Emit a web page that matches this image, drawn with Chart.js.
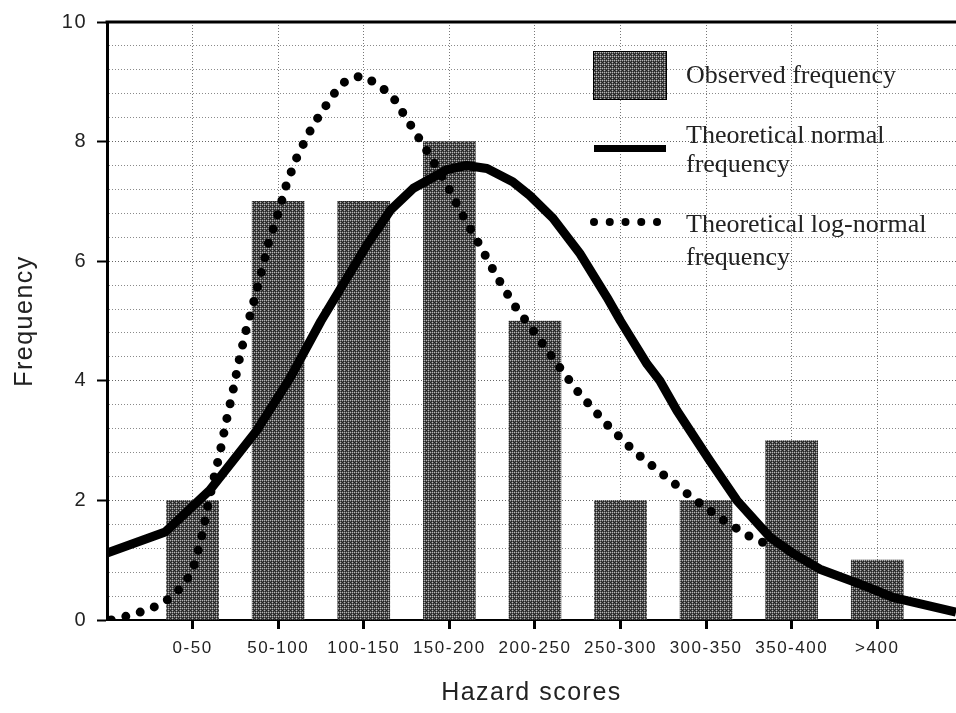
<!DOCTYPE html>
<html>
<head>
<meta charset="utf-8">
<script src="https://cdn.jsdelivr.net/npm/chart.js@4.4.0/dist/chart.umd.min.js"></script>
<style>
html, body { margin: 0; padding: 0; background: #fff; }
#wrap { width: 956px; height: 713px; position: relative; }
</style>
</head>
<body>
<div id="wrap"><canvas id="chart"></canvas></div>
<script>
// Categories and observed counts
const categories = ['0-50', '50-100', '100-150', '150-200', '200-250', '250-300', '300-350', '350-400', '>400'];
const observed = [2, 7, 7, 8, 5, 2, 2, 3, 1];

// Theoretical normal curve (x in category units)
const normalX = [0, 0.68, 1.2, 1.75, 2.14, 2.5, 3.04, 3.31, 3.58, 3.97, 4.2, 4.44, 4.74, 4.94, 5.21, 5.53, 5.84, 6.0, 6.31, 6.46, 6.66, 7.04, 7.36, 7.75, 8.01, 8.33, 8.8, 9.18, 9.92];
const normalY = [1.12, 1.47, 2.17, 3.17, 4.05, 5.0, 6.28, 6.85, 7.22, 7.53, 7.6, 7.55, 7.33, 7.1, 6.72, 6.12, 5.4, 5.0, 4.28, 4.0, 3.5, 2.67, 2.0, 1.38, 1.12, 0.85, 0.6, 0.38, 0.13];

// Theoretical log-normal curve
const logNormalX = [0.05, 0.14, 0.32, 0.49, 0.65, 0.79, 0.91, 1.0, 1.05, 1.1, 1.17, 1.24, 1.32, 1.39, 1.47, 1.54, 1.62, 1.71, 1.8, 1.89, 2.0, 2.1, 2.23, 2.41, 2.64, 2.79, 2.97, 3.14, 3.33, 3.56, 3.77, 3.97, 4.15, 4.35, 4.54, 4.75, 5.0, 5.26, 5.5, 5.82, 6.16, 6.5, 6.85, 7.2, 7.54, 7.8];
const logNormalY = [0.0, 0.03, 0.1, 0.18, 0.28, 0.43, 0.62, 0.83, 1.08, 1.35, 1.85, 2.32, 2.8, 3.3, 3.82, 4.32, 4.82, 5.3, 5.8, 6.32, 6.8, 7.3, 7.78, 8.28, 8.78, 9.02, 9.1, 8.98, 8.77, 8.25, 7.77, 7.28, 6.78, 6.28, 5.78, 5.28, 4.8, 4.28, 3.82, 3.3, 2.82, 2.43, 2.03, 1.67, 1.37, 1.22];

// Labelled y ticks
const yTickLabels = [0, 2, 4, 6, 8, 10];

const legendLabels = [
    ['Observed frequency'],
    ['Theoretical normal', 'frequency'],
    ['Theoretical log-normal', 'frequency']
];

const canvas = document.getElementById('chart');
const ctx = canvas.getContext('2d');

// Bar texture (dark mesh like the original print)
function makeMesh() {
    const c = document.createElement('canvas');
    c.width = 4; c.height = 4;
    const g = c.getContext('2d');
    for (let y = 0; y < 4; y++) {
        for (let x = 0; x < 4; x++) {
            let col;
            if ((x === 0 && y % 2 === 0) || (y === 0 && x % 2 === 0)) col = '#b4b4b4';
            else if ((x + y) % 2 === 0) col = '#222222';
            else col = '#555555';
            g.fillStyle = col;
            g.fillRect(x, y, 1, 1);
        }
    }
    return ctx.createPattern(c, 'repeat');
}
const mesh = makeMesh();

const isMajorY = v => yTickLabels.some(t => Math.abs(t - v) < 1e-6);
const isCat = v => Math.abs(v - Math.round(v)) < 1e-6 && v >= 1 && v <= categories.length;

// the old screen font is widely spaced
const spacingPlugin = {
    id: 'spacing',
    beforeUpdate(chart) { chart.ctx.letterSpacing = '1.5px'; },
    beforeRender(chart) { chart.ctx.letterSpacing = '1.5px'; }
};

// Thick frame line on top of the plot
const framePlugin = {
    id: 'frame',
    afterDraw(chart) {
        const { ctx, chartArea } = chart;
        ctx.save();
        ctx.strokeStyle = '#000';
        ctx.lineWidth = 3;
        ctx.beginPath();
        ctx.moveTo(chartArea.left - 1.5, chartArea.top);
        ctx.lineTo(chartArea.right, chartArea.top);
        ctx.stroke();
        ctx.restore();
    }
};

// Legend drawn inside the plot, top right
const legendPlugin = {
    id: 'boxLegend',
    afterDraw(chart) {
        const { ctx } = chart;
        ctx.save();
        ctx.letterSpacing = '0px';
        // observed box
        ctx.fillStyle = mesh;
        ctx.fillRect(593, 51, 74, 49);
        ctx.strokeStyle = '#000';
        ctx.lineWidth = 1;
        ctx.strokeRect(593.5, 51.5, 73, 48);
        // normal line
        ctx.fillStyle = '#000';
        ctx.fillRect(594, 145, 72, 7);
        // log-normal dots
        for (let i = 0; i < 5; i++) {
            ctx.beginPath();
            ctx.arc(594 + i * 15.75, 222, 4, 0, Math.PI * 2);
            ctx.fill();
        }
        ctx.fillStyle = '#222';
        ctx.font = '26px "Liberation Serif", "Times New Roman", serif';
        ctx.textBaseline = 'alphabetic';
        ctx.textAlign = 'left';
        const baselines = [[83], [143, 172], [232, 265]];
        legendLabels.forEach((lines, i) => {
            lines.forEach((t, j) => ctx.fillText(t, 686, baselines[i][j]));
        });
        ctx.restore();
    }
};

new Chart(ctx, {
    type: 'bar',
    data: {
        datasets: [
            {
                type: 'line',
                label: legendLabels[2].join(' '),
                data: logNormalX.map((x, i) => ({ x: x, y: logNormalY[i] })),
                borderColor: '#000',
                borderWidth: 9,
                borderDash: [0, 15],
                borderCapStyle: 'round',
                borderJoinStyle: 'round',
                pointRadius: 0,
                tension: 0,
                fill: false,
                order: 0
            },
            {
                type: 'line',
                label: legendLabels[1].join(' '),
                data: normalX.map((x, i) => ({ x: x, y: normalY[i] })),
                borderColor: '#000',
                borderWidth: 9,
                borderJoinStyle: 'round',
                pointRadius: 0,
                tension: 0,
                fill: false,
                order: 1
            },
            {
                type: 'bar',
                label: legendLabels[0].join(' '),
                data: observed.map((v, i) => ({ x: i + 1, y: v })),
                backgroundColor: mesh,
                borderWidth: 0,
                barThickness: 52,
                order: 2
            }
        ]
    },
    options: {
        responsive: true,
        maintainAspectRatio: false,
        animation: false,
        layout: { padding: { top: 21, right: 0, left: 0, bottom: 0 } },
        plugins: {
            legend: { display: false },
            tooltip: { enabled: false }
        },
        scales: {
            x: {
                type: 'linear',
                min: 0,
                max: 9.92,
                offset: false,
                afterFit(s) { s.height = 93; },
                ticks: {
                    stepSize: 1,
                    autoSkip: false,
                    maxRotation: 0,
                    includeBounds: false,
                    color: '#222',
                    padding: 9,
                    font: { family: 'Liberation Sans', size: 17 },
                    callback: v => isCat(v) ? categories[Math.round(v) - 1] : ''
                },
                grid: {
                    offset: false,
                    color: c => (c.tick && isCat(c.tick.value)) ? '#777' : 'rgba(0,0,0,0)',
                    lineWidth: 1,
                    tickLength: 9,
                    tickWidth: 3,
                    tickColor: c => (c.tick && isCat(c.tick.value)) ? '#000' : 'rgba(0,0,0,0)'
                },
                border: { color: '#000', width: 2, dash: [1, 2] },
                title: {
                    display: true,
                    text: 'Hazard scores',
                    color: '#222',
                    font: { family: 'Liberation Sans', size: 25 },
                    padding: { top: 4, bottom: 5 }
                }
            },
            y: {
                min: 0,
                max: 10,
                afterFit(s) { s.width = 107; },
                ticks: {
                    stepSize: 0.4,
                    autoSkip: false,
                    color: '#222',
                    padding: 10,
                    font: { family: 'Liberation Sans', size: 20 },
                    callback: v => isMajorY(v) ? String(Math.round(v)) : ''
                },
                grid: {
                    color: c => (c.tick && isMajorY(c.tick.value)) ? '#666' : '#8a8a8a',
                    lineWidth: 1,
                    tickLength: 10,
                    tickWidth: 2,
                    tickColor: c => (c.tick && isMajorY(c.tick.value)) ? '#000' : 'rgba(0,0,0,0)'
                },
                border: { color: '#000', width: 3, dash: [1, 2] },
                title: {
                    display: true,
                    text: 'Frequency',
                    color: '#222',
                    font: { family: 'Liberation Sans', size: 25 },
                    padding: { top: 10, bottom: 0 }
                }
            }
        }
    },
    plugins: [spacingPlugin, framePlugin, legendPlugin]
});
</script>
</body>
</html>
